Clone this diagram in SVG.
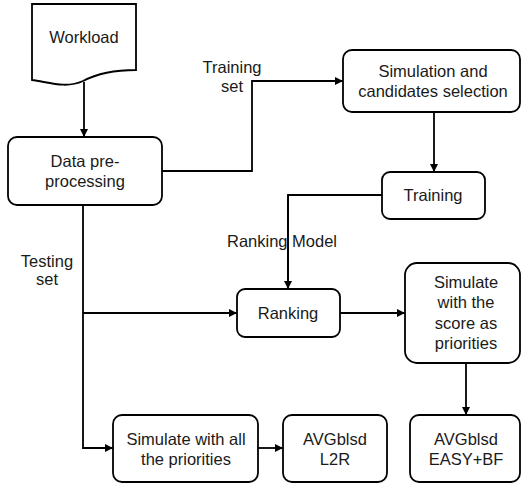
<svg xmlns="http://www.w3.org/2000/svg" width="521" height="485" viewBox="0 0 521 485">
<defs>
<marker id="ah" viewBox="0 0 10 10" refX="10" refY="5" markerWidth="8" markerHeight="8" markerUnits="userSpaceOnUse" orient="auto">
<path d="M0,0 L10,5 L0,10 z" fill="#000"/>
</marker>
<style>
.box{fill:#fff;stroke:#000;stroke-width:1.8}
.ln{fill:none;stroke:#000;stroke-width:1.8}
text{font-family:"Liberation Sans",Arial,sans-serif;font-size:16.5px;fill:#1a1a1a;text-anchor:middle}
</style>
</defs>
<rect width="521" height="485" fill="#fff"/>
<g id="connectors">
<path class="ln" d="M84,82 V137" marker-end="url(#ah)"/>
<path class="ln" d="M162,171 H252 V81 H343" marker-end="url(#ah)"/>
<path class="ln" d="M434,112 V172" marker-end="url(#ah)"/>
<path class="ln" d="M382,195 H288 V289" marker-end="url(#ah)"/>
<path class="ln" d="M83,205 V448 H113" marker-end="url(#ah)"/>
<path class="ln" d="M83,313 H237" marker-end="url(#ah)"/>
<path class="ln" d="M340,313 H405" marker-end="url(#ah)"/>
<path class="ln" d="M466,363 V415" marker-end="url(#ah)"/>
<path class="ln" d="M258,448 H283" marker-end="url(#ah)"/>
<text x="232" y="73">Training</text>
<text x="232" y="92">set</text>
<text x="47" y="267">Testing</text>
<text x="47" y="285">set</text>
<text x="282" y="247">Ranking Model</text>
<path class="ln" d="M288,195 V289"/>
</g>
<g id="workload">
<path class="box" d="M32,4 H136 V70 C118,70 100,72 83,81 C66,89 48,82 32,80 Z"/>
<text x="84" y="43">Workload</text>
</g>
<g id="preprocessing">
<rect class="box" x="8" y="137" width="154" height="68" rx="9"/>
<text x="85" y="167">Data pre-</text>
<text x="85" y="187">processing</text>
</g>
<g id="simulation">
<rect class="box" x="343" y="50" width="177" height="62" rx="9"/>
<text x="433" y="77">Simulation and</text>
<text x="433" y="97">candidates selection</text>
</g>
<g id="training">
<rect class="box" x="382" y="172" width="103" height="47" rx="8"/>
<text x="433" y="201">Training</text>
</g>
<g id="ranking">
<rect class="box" x="237" y="289" width="103" height="48" rx="8"/>
<text x="288" y="319">Ranking</text>
</g>
<g id="simscore">
<rect class="box" x="405" y="263" width="115" height="100" rx="12"/>
<text x="466" y="288">Simulate</text>
<text x="466" y="308">with the</text>
<text x="466" y="329">score as</text>
<text x="466" y="349">priorities</text>
</g>
<g id="simall">
<rect class="box" x="113" y="415" width="145" height="67" rx="9"/>
<text x="186" y="445">Simulate with all</text>
<text x="186" y="465">the priorities</text>
</g>
<g id="l2r">
<rect class="box" x="283" y="415" width="104" height="67" rx="9"/>
<text x="335" y="445">AVGblsd</text>
<text x="335" y="465">L2R</text>
</g>
<g id="easybf">
<rect class="box" x="410" y="415" width="110" height="67" rx="9"/>
<text x="466" y="445">AVGblsd</text>
<text x="466" y="465">EASY+BF</text>
</g>
</svg>
